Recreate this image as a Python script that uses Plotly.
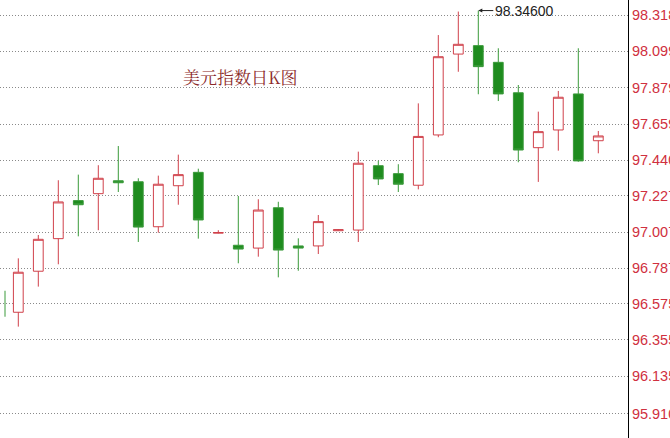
import plotly.graph_objects as go

# ---- data ----
idx = list(range(1, 31))
open_ = [96.522, 96.770, 96.967, 97.197, 97.239, 97.317, 97.311, 97.039, 97.287, 97.368,
         97.000, 96.927, 96.910, 97.154, 96.923, 96.923, 97.015, 97.019, 97.408, 97.360,
         97.290, 97.594, 98.083, 98.134, 98.033, 97.849, 97.517, 97.624, 97.842, 97.559]
high = [96.848, 96.989, 97.320, 97.354, 97.411, 97.527, 97.332, 97.348, 97.475, 97.390,
        97.018, 97.225, 97.205, 97.190, 96.969, 97.110, 97.025, 97.493, 97.438, 97.417,
        97.785, 98.198, 98.340, 98.346, 98.118, 97.896, 97.735, 97.860, 98.118, 97.618]
low = [96.435, 96.677, 96.812, 96.981, 97.018, 97.249, 96.947, 97.003, 97.172, 96.967,
       96.998, 96.818, 96.858, 96.733, 96.773, 96.874, 97.013, 96.947, 97.291, 97.249,
       97.265, 97.580, 97.976, 97.840, 97.799, 97.429, 97.310, 97.499, 97.432, 97.483]
close = [96.764, 96.963, 97.189, 97.172, 97.332, 97.305, 97.037, 97.296, 97.354, 97.080,
         97.004, 96.904, 97.140, 96.898, 96.910, 97.070, 97.021, 97.423, 97.328, 97.296,
         97.585, 98.067, 98.142, 98.007, 97.842, 97.503, 97.614, 97.822, 97.437, 97.588]

# partially visible wick at the left edge
edge_x = [0.335, 0.335]
edge_y = [96.495, 96.652]

tick_vals = [98.318, 98.099, 97.879, 97.659, 97.440, 97.227, 97.007, 96.787, 96.575,
             96.355, 96.135, 95.910]
tick_text = ["98.318", "98.099", "97.879", "97.659", "97.440", "97.227", "97.007",
             "96.787", "96.575", "96.355", "96.135", "95.910"]

max_idx = 24
max_val = 98.346
title_text = "美元指数日K图"

RED = "#d0404a"
GREEN = "#1e8c1e"
GREEN_EDGE = "#3a9a3a"

fig = go.Figure()
fig.add_trace(go.Scatter(x=edge_x, y=edge_y, mode="lines",
                         line=dict(color=GREEN_EDGE, width=1), showlegend=False,
                         hoverinfo="skip"))
fig.add_trace(go.Candlestick(
    x=idx, open=open_, high=high, low=low, close=close,
    increasing=dict(line=dict(color=RED, width=1), fillcolor="white"),
    decreasing=dict(line=dict(color=GREEN_EDGE, width=1), fillcolor=GREEN),
    whiskerwidth=0, showlegend=False))

fig.add_annotation(x=max_idx, y=max_val, text=format(max_val, ".5f"),
                   showarrow=True, ax=15, ay=0, xanchor="left", yanchor="middle",
                   arrowhead=2, arrowsize=0.8, arrowwidth=1, arrowcolor="#222",
                   font=dict(family="Arial, Liberation Sans", size=14, color="#222"))
fig.add_annotation(x=0.289, y=0.825, xref="paper", yref="paper", text=title_text,
                   showarrow=False, xanchor="left", yanchor="middle",
                   font=dict(family="Noto Serif CJK SC, Noto Sans CJK SC", size=17,
                             color="#8b2a2a"))

fig.update_layout(
    width=670, height=438,
    margin=dict(l=0, r=42, t=0, b=0),
    paper_bgcolor="white", plot_bgcolor="white",
    boxgap=0.3,
    xaxis=dict(range=[0.085, 31.485], showgrid=False, zeroline=False,
               showticklabels=False, rangeslider=dict(visible=False), fixedrange=True),
    yaxis=dict(side="right", range=[95.7617, 98.4099], tickvals=tick_vals,
               ticktext=tick_text, showgrid=True, gridcolor="#8a8a8a",
               griddash="1px,2px", gridwidth=1, zeroline=False, showline=True,
               linecolor="black", linewidth=1, ticks="", ticklabelstandoff=0,
               automargin=False, fixedrange=True,
               tickfont=dict(family="Arial, Liberation Sans", size=14.5, color="#d03040")),
)

fig.write_html("out.html", config={"displayModeBar": False},
               post_script="document.body.style.margin='0px';")
